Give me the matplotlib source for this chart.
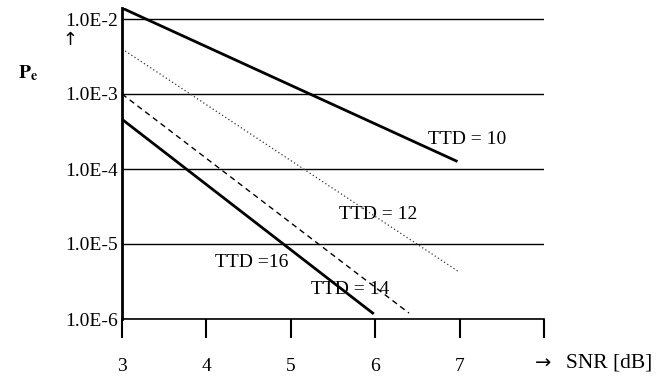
import numpy as np
import matplotlib
matplotlib.use("Agg")
import matplotlib.pyplot as plt

plt.rcParams['font.family'] = ['Liberation Serif', 'DejaVu Serif']
plt.rcParams['mathtext.fontset'] = 'stix'

# curves: SNR [dB] end points and error probability
snr_10 = [3, 6.96]
pe_10 = [1.4e-2, 1.28e-4]
snr_12 = [3, 7]
pe_12 = [4.0e-3, 4.2e-6]
snr_14 = [3, 6.4]
pe_14 = [1.0e-3, 1.2e-6]
snr_16 = [3, 5.97]
pe_16 = [4.6e-4, 1.2e-6]

y_ticks = [1e-6, 1e-5, 1e-4, 1e-3, 1e-2]
y_labels = ['1.0E-6', '1.0E-5', '1.0E-4', '1.0E-3', '1.0E-2']
x_ticks = [3, 4, 5, 6, 7, 8]
x_labels = ['3', '4', '5', '6', '7', '']

W, H = 661, 379
fig = plt.figure(figsize=(W / 100, H / 100), dpi=100)
ax = fig.add_axes([122 / W, 1 - 319 / H, (544 - 122) / W, (319 - 8) / H])

ax.set_yscale('log')
ax.set_xlim(3, 8)
ax.set_ylim(1e-6, 10 ** (-2 + 11 / 75))

for y in y_ticks:
    ax.axhline(y, color='black', lw=1.0, zorder=1)

ax.plot(snr_10, pe_10, color='black', lw=2.0)
ax.plot(snr_12, pe_12, color='#333333', lw=0.9, ls=(0, (1, 2)))
ax.plot(snr_14, pe_14, color='black', lw=1.0, ls=(0, (4, 3)))
ax.plot(snr_16, pe_16, color='black', lw=2.0)

ax.set_yticks(y_ticks)
ax.set_yticklabels(y_labels)
ax.yaxis.set_minor_locator(matplotlib.ticker.NullLocator())
ax.tick_params(axis='y', length=0, pad=3, labelsize=14)
ax.set_xticks(x_ticks)
ax.set_xticklabels(x_labels)
ax.tick_params(axis='x', direction='out', length=14, width=1.5, pad=14,
               labelsize=14)

for s in ['top', 'right']:
    ax.spines[s].set_visible(False)
ax.spines['left'].set_linewidth(2.0)
ax.spines['bottom'].set_linewidth(1.2)

ax.text(7.09, 2.44e-4, 'TTD = 10', fontsize=14, ha='center', va='center')
ax.text(6.04, 2.44e-5, 'TTD = 12', fontsize=14, ha='center', va='center')
ax.text(4.54, 5.6e-6, 'TTD =16', fontsize=14, ha='center', va='center')
ax.text(5.70, 2.5e-6, 'TTD = 14', fontsize=14, ha='center', va='center')

fig.text(535 / W, 1 - 363 / H, '\u2192', fontsize=14, ha='left', va='center',
         family='DejaVu Sans')
fig.text(566 / W, 1 - 363 / H, 'SNR [dB]', fontsize=15.5, ha='left', va='center')
fig.text(28 / W, 1 - 73 / H, r'$\mathbf{P}_{\mathbf{e}}$', fontsize=14, ha='center', va='center')
fig.text(70 / W, 1 - 40 / H, '\u2191', fontsize=13, ha='center', va='center',
         family='DejaVu Sans')

fig.savefig('out.png', dpi=100, facecolor='white')
